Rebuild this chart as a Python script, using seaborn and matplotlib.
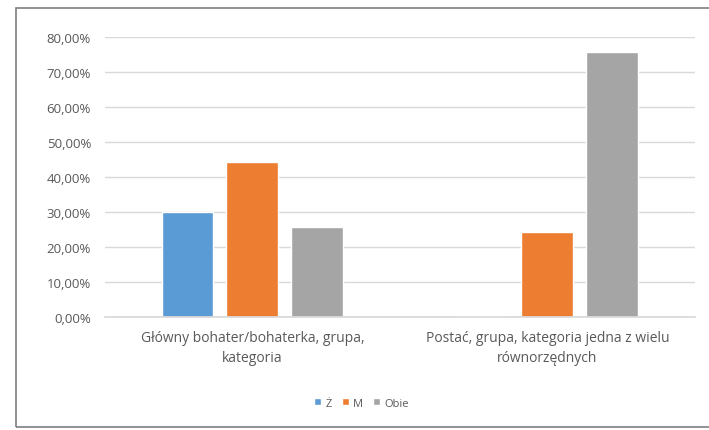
import pandas as pd
import numpy as np
import matplotlib.pyplot as plt
import seaborn as sns
from matplotlib.ticker import FuncFormatter
from matplotlib.patches import Rectangle

# ----------------------------------
# Data
# ----------------------------------

categories = [
    "Główny bohater/bohaterka, grupa,\nkategoria",
    "Postać, grupa, kategoria jedna z wielu\nrównorzędnych",
]
series = ["Ż", "M", "Obie"]
values_z = [30.0, 0.0]
values_m = [44.3, 24.2]
values_obie = [25.7, 75.8]
colors = ["#5B9BD5", "#ED7D31", "#A5A5A5"]

df = pd.DataFrame({
    "Kategoria": categories * 3,
    "Płeć": [s for s in series for _ in categories],
    "Wartość": values_z + values_m + values_obie,
})

# ----------------------------------
# Plot
# ----------------------------------

sns.set_theme(style="white")
plt.rcParams["font.family"] = ["Open Sans", "DejaVu Sans"]

fig = plt.figure(figsize=(7.09, 4.31), dpi=100)
ax = fig.add_axes([0.148, 0.262, 0.832, 0.65])

sns.barplot(
    data=df,
    x="Kategoria",
    y="Wartość",
    hue="Płeć",
    palette=colors,
    width=0.66,
    gap=0.2,
    saturation=1,
    ax=ax,
)

ax.set_ylim(0, 80)
ax.set_yticks(np.arange(0, 81, 10))
ax.yaxis.set_major_formatter(
    FuncFormatter(lambda v, _: f"{v:.2f}".replace(".", ",") + "%")
)
ax.grid(axis="y", color="#D9D9D9", linewidth=1)
ax.set_axisbelow(True)
ax.set_xlabel("")
ax.set_ylabel("")

for side in ["top", "right", "left"]:
    ax.spines[side].set_visible(False)
ax.spines["bottom"].set_color("#D9D9D9")

ax.tick_params(axis="both", length=0, colors="#595959")
ax.tick_params(axis="y", labelsize=9.5, pad=10)
ax.tick_params(axis="x", labelsize=10, pad=9)
for lbl in ax.get_xticklabels():
    lbl.set_linespacing(1.5)

handles, labels = ax.get_legend_handles_labels()
ax.legend_.remove()
fig.legend(
    handles,
    labels,
    loc="center",
    bbox_to_anchor=(0.51, 0.062),
    ncol=3,
    frameon=False,
    fontsize=8,
    labelcolor="#595959",
    handlelength=0.6,
    handleheight=0.6,
    handletextpad=0.4,
    columnspacing=0.9,
)

# outer chart border
fig.patches.append(Rectangle(
    (16 / 709, 3 / 431), 1.0, 1 - 12 / 431,
    transform=fig.transFigure, fill=False,
    edgecolor="#7F7F7F", linewidth=1.2,
))

plt.savefig("out.png", dpi=100)
plt.close()
